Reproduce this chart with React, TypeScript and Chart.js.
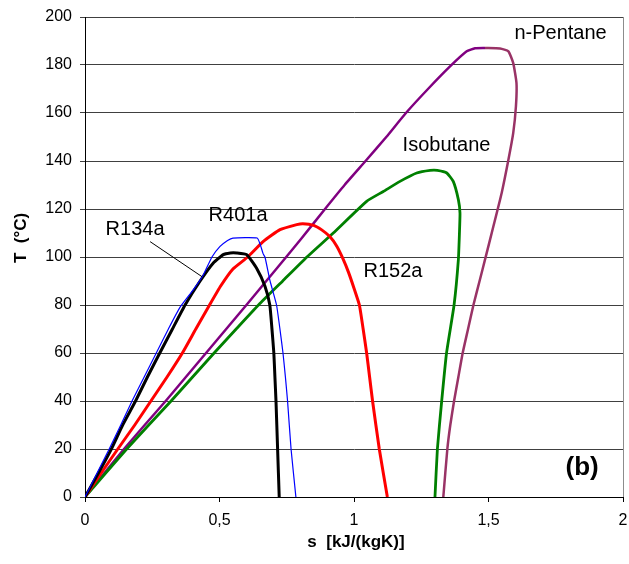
import React, { useEffect, useRef } from 'react';
import { Chart, registerables } from 'chart.js';

Chart.register(...registerables);

const FONT = '"Liberation Sans", Arial, Helvetica, sans-serif';

// s [kJ/(kgK)] and T [°C] for each saturation dome
const sR134a = [0, 0.05, 0.098, 0.14, 0.188, 0.232, 0.278, 0.325, 0.372, 0.428, 0.477, 0.514, 0.54, 0.564, 0.601, 0.638, 0.669, 0.687, 0.695, 0.702, 0.706, 0.71, 0.716, 0.722];
const tR134a = [0, 10, 20, 30, 40, 50, 60, 70, 80, 90, 97.5, 101, 101.7, 101.7, 101, 95.3, 87.8, 80, 70, 60, 50, 40, 20, 0];

const sR401a = [0, 0.045, 0.09, 0.133, 0.175, 0.22, 0.265, 0.31, 0.353, 0.403, 0.44, 0.472, 0.502, 0.53, 0.55, 0.64, 0.652, 0.662, 0.669, 0.688, 0.712, 0.725, 0.736, 0.745, 0.753, 0.766, 0.784];
const tR401a = [0, 10, 20, 30, 40, 50, 60, 70, 79, 86.4, 92.6, 100, 104.4, 106.9, 107.9, 107.9, 105, 101.4, 100, 90, 80, 69.7, 60, 50, 40, 20, 0];

const sR152a = [0, 0.06, 0.122, 0.185, 0.245, 0.305, 0.362, 0.412, 0.463, 0.505, 0.55, 0.605, 0.663, 0.725, 0.787, 0.81, 0.85, 0.88, 0.91, 0.936, 0.958, 0.98, 1.0, 1.02, 1.034, 1.047, 1.058, 1.069, 1.094, 1.124];
const tR152a = [0, 10, 20, 30, 40, 50, 60, 70, 80, 88, 95, 100, 106.5, 111.4, 113.5, 113.9, 113.2, 111.3, 108.5, 104.5, 99.5, 93.5, 87, 80, 70, 60, 50, 40, 20, 0];

const sIsobutane = [0, 0.077, 0.155, 0.237, 0.32, 0.4, 0.48, 0.562, 0.645, 0.735, 0.825, 0.923, 1.047, 1.109, 1.171, 1.233, 1.283, 1.31, 1.345, 1.369, 1.388, 1.394, 1.392, 1.388, 1.372, 1.344, 1.326, 1.31, 1.301];
const tIsobutane = [0, 10, 20, 30, 40, 50, 60, 70, 80, 90, 100, 110, 123.2, 127.3, 131.5, 135, 136.1, 136.1, 135, 131.5, 123.9, 118.3, 110, 98.9, 80, 60, 40, 20, 0];

const sPentaneLiq = [0, 0.072, 0.145, 0.222, 0.3, 0.375, 0.45, 0.525, 0.6, 0.674, 0.748, 0.803, 0.89, 0.965, 1.047, 1.12, 1.193, 1.275, 1.357, 1.419, 1.45, 1.487];
const tPentaneLiq = [0, 10, 20, 30, 40, 50, 60, 70, 80, 90, 100, 107.5, 119.7, 130, 140.5, 150, 160, 170, 179.4, 185.7, 187, 187.1];

const sPentaneVap = [1.487, 1.543, 1.574, 1.592, 1.604, 1.602, 1.592, 1.574, 1.549, 1.518, 1.487, 1.468, 1.444, 1.424, 1.404, 1.388, 1.372, 1.358, 1.347, 1.332];
const tPentaneVap = [187.1, 186.9, 185.7, 180.8, 172.5, 162.8, 151.7, 140.5, 126.7, 112.7, 98.9, 90.5, 80, 70, 60, 50, 40, 30, 20, 0];

// annotation texts and their anchor positions (data coordinates)
const labelTexts = ['R134a', 'R401a', 'R152a', 'Isobutane', 'n-Pentane'];
const labelS = [0.186, 0.569, 1.145, 1.344, 1.768];
const labelT = [111.6, 117.5, 94, 146.6, 193];
const leaderS = [0.242, 0.435];
const leaderT = [106.4, 91.8];
const panelText = '(b)';
const panelS = 1.848;
const panelT = 12.2;
const xTitle = 's  [kJ/(kgK)]';
const yTitle = 'T  (°C)';

const zip = (s: number[], t: number[]) => s.map((x, i) => ({ x, y: t[i] }));

export default function App() {
  const ref = useRef<HTMLCanvasElement>(null);

  useEffect(() => {
    document.body.style.margin = '0';
    const canvas = ref.current;
    if (!canvas) return;

    const annot = {
      id: 'annot',
      afterDatasetsDraw(chart: any) {
        const { ctx, chartArea } = chart;
        const x = chart.scales.x;
        const y = chart.scales.y;
        ctx.save();
        // right border of plot
        ctx.strokeStyle = '#8c8c8c';
        ctx.lineWidth = 1;
        ctx.beginPath();
        ctx.moveTo(Math.round(chartArea.right) + 0.5, chartArea.top);
        ctx.lineTo(Math.round(chartArea.right) + 0.5, chartArea.bottom);
        ctx.stroke();
        // leader line
        ctx.strokeStyle = '#000';
        ctx.lineWidth = 1;
        ctx.beginPath();
        ctx.moveTo(x.getPixelForValue(leaderS[0]), y.getPixelForValue(leaderT[0]));
        ctx.lineTo(x.getPixelForValue(leaderS[1]), y.getPixelForValue(leaderT[1]));
        ctx.stroke();
        // labels
        ctx.fillStyle = '#000';
        ctx.textAlign = 'center';
        ctx.textBaseline = 'middle';
        ctx.font = `20px ${FONT}`;
        labelTexts.forEach((txt, i) => {
          ctx.fillText(txt, x.getPixelForValue(labelS[i]), y.getPixelForValue(labelT[i]));
        });
        ctx.font = `bold 26px ${FONT}`;
        ctx.fillText(panelText, x.getPixelForValue(panelS), y.getPixelForValue(panelT));
        // axis titles
        ctx.font = `bold 17px ${FONT}`;
        ctx.fillText(xTitle, 356, 542);
        ctx.translate(21, 238);
        ctx.rotate(-Math.PI / 2);
        ctx.fillText(yTitle, 0, 0);
        ctx.restore();
      },
    };

    const mk = (label: string, s: number[], t: number[], color: string, w: number) => ({
      label,
      data: zip(s, t),
      borderColor: color,
      backgroundColor: color,
      borderWidth: w,
      showLine: true,
      pointRadius: 0,
      pointHoverRadius: 0,
      tension: 0.15,
      fill: false,
    });

    const chart = new Chart(canvas, {
      type: 'scatter',
      data: {
        datasets: [
          mk('R401a', sR401a, tR401a, '#0000ff', 1.2),
          mk('R134a', sR134a, tR134a, '#000000', 3),
          mk('R152a', sR152a, tR152a, '#ff0000', 3),
          mk('Isobutane', sIsobutane, tIsobutane, '#008000', 2.8),
          mk('n-Pentane (liquid)', sPentaneLiq, tPentaneLiq, '#800080', 2.5),
          mk('n-Pentane (vapour)', sPentaneVap, tPentaneVap, '#993366', 2.5),
        ],
      },
      options: {
        responsive: false,
        devicePixelRatio: 1,
        animation: false,
        layout: { padding: { top: 17, right: 6, left: 0, bottom: 0 } },
        plugins: {
          legend: { display: false },
          tooltip: { enabled: false },
          title: { display: false },
        },
        scales: {
          x: {
            type: 'linear',
            min: 0,
            max: 2,
            ticks: {
              stepSize: 0.5,
              color: '#000',
              padding: 9,
              font: { family: FONT, size: 16 },
              callback: (v: any) => String(v).replace('.', ','),
            },
            grid: { drawOnChartArea: false, drawTicks: true, tickLength: 5, color: '#000' },
            border: { display: true, color: '#000', width: 1 },
            afterFit: (s: any) => { s.height = 67; s.paddingRight = 0; s.paddingLeft = 0; },
          },
          y: {
            type: 'linear',
            min: 0,
            max: 200,
            ticks: {
              stepSize: 20,
              color: '#000',
              padding: 8,
              font: { family: FONT, size: 16 },
            },
            grid: { color: '#404040', tickLength: 5, lineWidth: 1 },
            border: { display: true, color: '#000', width: 1 },
            afterFit: (s: any) => { s.width = 85; s.paddingTop = 0; s.paddingBottom = 0; },
          },
        },
      },
      plugins: [annot],
    });

    return () => chart.destroy();
  }, []);

  return (
    <div style={{ width: 629, height: 564 }}>
      <canvas ref={ref} width={629} height={564} style={{ display: 'block' }} />
    </div>
  );
}
